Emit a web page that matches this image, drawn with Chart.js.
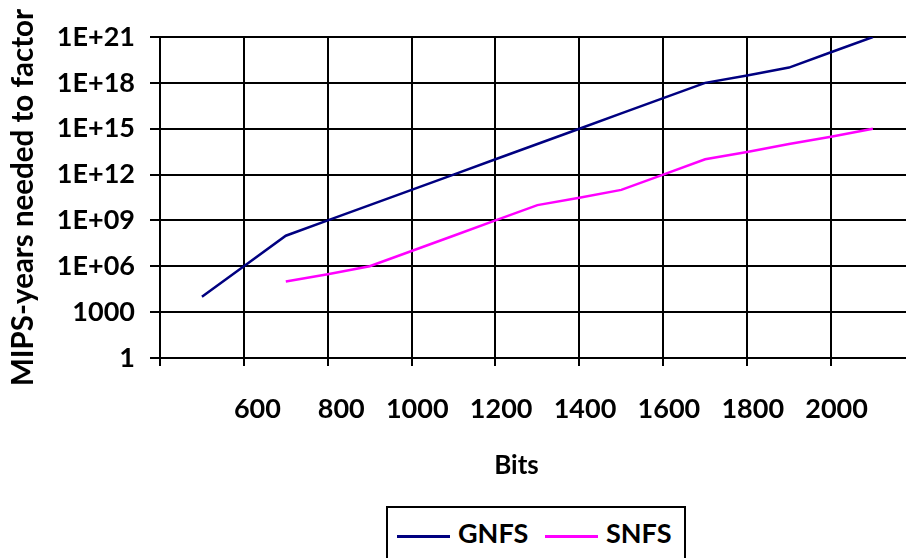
<!DOCTYPE html>
<html>
<head>
<meta charset="utf-8">
<script src="https://cdn.jsdelivr.net/npm/chart.js@4.4.0/dist/chart.umd.min.js"></script>
<style>
    html, body { margin: 0; padding: 0; background: #fff; overflow: hidden; }
    #wrap { position: relative; width: 906px; height: 558px; }
    #legend {
        position: absolute; left: 386px; top: 506px; width: 296px; height: 70px;
        border: 2px solid #000; background: #fff;
        font-family: Lato, Calibri, sans-serif; font-weight: bold; font-size: 27px; color: #000;
    }
    #legend .item { position: absolute; top: 8px; height: 34px; line-height: 34px; white-space: nowrap; }
    #legend .swatch { display: inline-block; width: 53px; height: 3px; vertical-align: middle; margin-right: 8px; }
</style>
</head>
<body>
<div id="wrap">
    <canvas id="factorChart" width="906" height="558"></canvas>
    <div id="legend"></div>
</div>
<script>
// bits of the number to factor
const bits = [500, 600, 700, 800, 900, 1000, 1100, 1200, 1300, 1400, 1500, 1600, 1700, 1800, 1900, 2000, 2100];
// MIPS-years
const gnfs = [1e4, 1e6, 1e8, 1e9, 1e10, 1e11, 1e12, 1e13, 1e14, 1e15, 1e16, 1e17, 1e18, 3e18, 1e19, 1e20, 1e21];
const snfs = [null, null, 1e5, 3e5, 1e6, 1e7, 1e8, 1e9, 1e10, 3e10, 1e11, 1e12, 1e13, 3e13, 1e14, 3e14, 1e15];

const seriesNames = ['GNFS', 'SNFS'];
const seriesColors = ['#000080', '#ff00ff'];

const xTicks = [400, 600, 800, 1000, 1200, 1400, 1600, 1800, 2000];
const xTickLabels = ['', '600', '800', '1000', '1200', '1400', '1600', '1800', '2000'];
const yTicks = [1, 1e3, 1e6, 1e9, 1e12, 1e15, 1e18, 1e21];
const yTickLabels = ['1', '1000', '1E+06', '1E+09', '1E+12', '1E+15', '1E+18', '1E+21'];

const FONT = 'Lato, Calibri, sans-serif';

const toPoints = arr => bits.map((b, i) => ({ x: b, y: arr[i] })).filter(p => p.y !== null);

// x-axis title sits centred under the data range, not the whole plot area
const bitsTitle = {
    id: 'bitsTitle',
    afterDraw(chart) {
        const x = chart.scales.x;
        const ctx = chart.ctx;
        const cx = (x.getPixelForValue(400) + x.getPixelForValue(2100)) / 2;
        ctx.save();
        ctx.font = 'bold 26px ' + FONT;
        ctx.fillStyle = '#000';
        ctx.textAlign = 'center';
        ctx.textBaseline = 'middle';
        ctx.fillText('Bits', cx, 466);
        ctx.restore();
    }
};

const ctx = document.getElementById('factorChart').getContext('2d');
const chart = new Chart(ctx, {
    type: 'line',
    data: {
        datasets: [
            { label: seriesNames[0], data: toPoints(gnfs), borderColor: seriesColors[0], backgroundColor: seriesColors[0], borderWidth: 2.5, pointRadius: 0, tension: 0, fill: false },
            { label: seriesNames[1], data: toPoints(snfs), borderColor: seriesColors[1], backgroundColor: seriesColors[1], borderWidth: 2.5, pointRadius: 0, tension: 0, fill: false }
        ]
    },
    options: {
        responsive: false,
        animation: false,
        layout: { padding: { top: 37, left: 0, right: 0, bottom: 0 } },
        plugins: { legend: { display: false }, tooltip: { enabled: false } },
        scales: {
            x: {
                type: 'linear',
                min: 400,
                max: 2179,
                afterBuildTicks: s => { s.ticks = xTicks.map(v => ({ value: v })); },
                afterFit: s => { s.height = 200; },
                grid: { color: '#000', lineWidth: 2, tickLength: 8 },
                border: { color: '#000', width: 2 },
                ticks: {
                    color: '#000', font: { family: FONT, size: 27, weight: 'bold' },
                    align: 'end', labelOffset: 37, padding: 27, maxRotation: 0, autoSkip: false,
                    callback: (v, i) => xTickLabels[i]
                }
            },
            y: {
                type: 'logarithmic',
                min: 1,
                max: 1e21,
                afterBuildTicks: s => { s.ticks = yTicks.map(v => ({ value: v })); },
                afterFit: s => { s.width = 160; },
                grid: { color: '#000', lineWidth: 2, tickLength: 10 },
                border: { color: '#000', width: 2 },
                ticks: {
                    color: '#000', font: { family: FONT, size: 27, weight: 'bold' },
                    padding: 15, autoSkip: false,
                    callback: (v, i) => yTickLabels[i]
                },
                title: {
                    display: true, text: 'MIPS-years needed to factor', color: '#000',
                    font: { family: FONT, size: 29.5, weight: 'bold' }, padding: { top: 6, bottom: 0 }
                }
            }
        }
    },
    plugins: [bitsTitle]
});

// legend box drawn as html, samples taken from the datasets
const legend = document.getElementById('legend');
const itemLeft = [9, 157];
chart.data.datasets.forEach((ds, i) => {
    const item = document.createElement('div');
    item.className = 'item';
    item.style.left = itemLeft[i] + 'px';
    item.innerHTML = '<span class="swatch" style="background:' + ds.borderColor + '"></span>' + ds.label;
    legend.appendChild(item);
});
</script>
</body>
</html>
